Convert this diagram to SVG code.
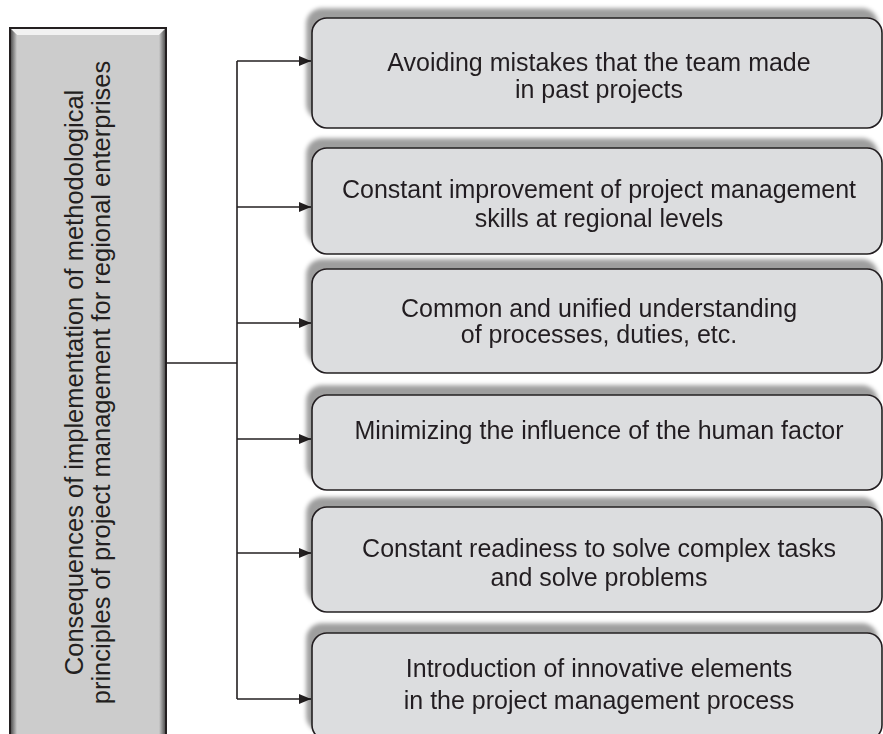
<svg xmlns="http://www.w3.org/2000/svg" width="883" height="734" viewBox="0 0 883 734">
<defs>
<style>
.box{fill:#dcdddf;stroke:#231f20;stroke-width:1.6}
.t{font-family:"Liberation Sans",Arial,sans-serif;font-size:25px;fill:#231f20;text-anchor:middle}
.tl{font-family:"Liberation Sans",Arial,sans-serif;font-size:25.5px;fill:#231f20;text-anchor:middle}
.c{fill:none;stroke:#231f20;stroke-width:1.6}
</style>
<filter id="sh" x="-5%" y="-25%" width="110%" height="150%">
<feGaussianBlur in="SourceAlpha" stdDeviation="2.2"/>
<feOffset dx="-5" dy="-9" result="b"/>
<feFlood flood-color="#000" flood-opacity="0.38"/>
<feComposite in2="b" operator="in"/>
<feMerge><feMergeNode/><feMergeNode in="SourceGraphic"/></feMerge>
</filter>
<marker id="ah" viewBox="0 0 12 10" refX="12" refY="5" markerWidth="12" markerHeight="10" markerUnits="userSpaceOnUse" orient="auto">
<path d="M0,0 L12,5 L0,10 z" fill="#231f20"/>
</marker>
<linearGradient id="gl" x1="0" y1="0" x2="1" y2="0"><stop offset="0" stop-color="#555"/><stop offset="1" stop-color="#ccc"/></linearGradient>
<linearGradient id="gr" x1="0" y1="0" x2="1" y2="0"><stop offset="0" stop-color="#ccc"/><stop offset="1" stop-color="#555"/></linearGradient>
</defs>
<rect width="883" height="734" fill="#fff"/>

<g id="main">
<rect x="10" y="28" width="156" height="720" fill="#cccccc" stroke="#231f20" stroke-width="2"/>
<polygon points="11,29 165,29 159,35 17,35" fill="#f2f2f2"/>
<polygon points="11,29 17,35 17,748 11,748" fill="url(#gl)"/>
<polygon points="165,29 159,35 159,748 165,748" fill="url(#gr)"/>
<text class="tl" transform="translate(83,382.5) rotate(-90)">Consequences of implementation of methodological</text>
<text class="tl" transform="translate(110,382.5) rotate(-90)">principles of project management for regional enterprises</text>
</g>

<g id="connectors">
<path class="c" d="M166,363 H237"/>
<path class="c" d="M237,61 V699"/>
<path class="c" d="M237,61 H311" marker-end="url(#ah)"/>
<path class="c" d="M237,207 H311" marker-end="url(#ah)"/>
<path class="c" d="M237,323 H311" marker-end="url(#ah)"/>
<path class="c" d="M237,439 H311" marker-end="url(#ah)"/>
<path class="c" d="M237,553 H311" marker-end="url(#ah)"/>
<path class="c" d="M237,699 H311" marker-end="url(#ah)"/>
</g>

<g id="n1" filter="url(#sh)">
<rect class="box" x="312" y="18" width="570" height="110" rx="15"/>
<text class="t" x="599" y="71">Avoiding mistakes that the team made</text>
<text class="t" x="599" y="98">in past projects</text>
</g>
<g id="n2" filter="url(#sh)">
<rect class="box" x="312" y="148" width="570" height="106" rx="15"/>
<text class="t" x="599" y="198">Constant improvement of project management</text>
<text class="t" x="599" y="227">skills at regional levels</text>
</g>
<g id="n3" filter="url(#sh)">
<rect class="box" x="312" y="269" width="570" height="104" rx="15"/>
<text class="t" x="599" y="317">Common and unified understanding</text>
<text class="t" x="599" y="343">of processes, duties, etc.</text>
</g>
<g id="n4" filter="url(#sh)">
<rect class="box" x="312" y="395" width="570" height="95" rx="15"/>
<text class="t" x="599" y="439">Minimizing the influence of the human factor</text>
</g>
<g id="n5" filter="url(#sh)">
<rect class="box" x="312" y="507" width="570" height="105" rx="15"/>
<text class="t" x="599" y="557">Constant readiness to solve complex tasks</text>
<text class="t" x="599" y="586">and solve problems</text>
</g>
<g id="n6" filter="url(#sh)">
<rect class="box" x="312" y="633" width="570" height="107" rx="15"/>
<text class="t" x="599" y="677">Introduction of innovative elements</text>
<text class="t" x="599" y="709">in the project management process</text>
</g>
</svg>
